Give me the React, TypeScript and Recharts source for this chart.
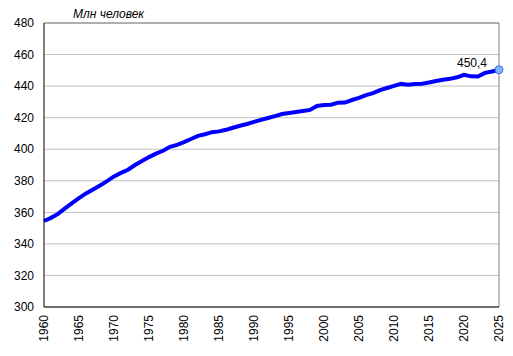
import { LineChart, Line, XAxis, YAxis, CartesianGrid, ReferenceLine } from 'recharts'

const years = [
  1960, 1961, 1962, 1963, 1964, 1965, 1966, 1967, 1968, 1969,
  1970, 1971, 1972, 1973, 1974, 1975, 1976, 1977, 1978, 1979,
  1980, 1981, 1982, 1983, 1984, 1985, 1986, 1987, 1988, 1989,
  1990, 1991, 1992, 1993, 1994, 1995, 1996, 1997, 1998, 1999,
  2000, 2001, 2002, 2003, 2004, 2005, 2006, 2007, 2008, 2009,
  2010, 2011, 2012, 2013, 2014, 2015, 2016, 2017, 2018, 2019,
  2020, 2021, 2022, 2023, 2024, 2025,
]

// млн человек
const population = [
  354.5, 356.5, 359.0, 362.5, 365.8, 369.0, 372.0, 374.5, 377.0, 379.8,
  382.8, 385.0, 387.0, 390.0, 392.5, 395.0, 397.2, 399.0, 401.5, 402.8,
  404.5, 406.5, 408.5, 409.5, 410.8, 411.3, 412.3, 413.6, 414.9, 416.0,
  417.3, 418.6, 419.8, 421.0, 422.3, 423.0, 423.6, 424.2, 424.9, 427.4,
  428.0, 428.2, 429.5, 429.6, 431.2, 432.6, 434.3, 435.6, 437.5, 438.8,
  440.1, 441.4, 440.8, 441.4, 441.5, 442.3, 443.2, 444.0, 444.6, 445.6,
  447.2, 446.2, 446.1, 448.4, 449.3, 450.4,
]

const yTicks = [300, 320, 340, 360, 380, 400, 420, 440, 460, 480]
const xTicks = [1960, 1965, 1970, 1975, 1980, 1985, 1990, 1995, 2000, 2005, 2010, 2015, 2020, 2025]

const data = years.map((year, i) => ({ year, pop: population[i] }))
const last = data.length - 1
const font = "'Liberation Sans', Arial, sans-serif"

function XTick({ x, y, payload }: any) {
  return (
    <text x={x} y={y} transform={`rotate(-90 ${x} ${y})`} textAnchor="end" dy="0.35em"
      fontSize={12} fontFamily={font} fill="#000">
      {payload.value}
    </text>
  )
}

function LastDot(props: any) {
  if (props.index !== last) return <g key={props.index} />
  return <circle key={props.index} cx={props.cx} cy={props.cy} r={4} fill="#80b4ff" stroke="#3d6ef5" strokeWidth={1} />
}

function LastLabel(props: any) {
  if (props.index !== last) return <g key={props.index} />
  return (
    <text key={props.index} x={props.x - 12} y={props.y - 3} textAnchor="end" fontSize={12} fontFamily={font} fill="#000">
      {String(props.value).replace('.', ',')}
    </text>
  )
}

export default function App() {
  return (
    <div style={{ position: 'absolute', left: 0, top: 0, width: 513, height: 356, background: '#fff' }}>
      <LineChart width={513} height={356} data={data} margin={{ top: 23, right: 14, left: 0, bottom: 0 }}>
        <CartesianGrid vertical={false} stroke="#c0c0c0" />
        <ReferenceLine y={480} stroke="#808080" />
        <ReferenceLine x={2025} stroke="#808080" />
        <XAxis dataKey="year" type="number" domain={[1960, 2025]} ticks={xTicks} interval={0}
          height={49} tickSize={0} tickMargin={8} tickLine={false}
          axisLine={{ stroke: '#000' }} tick={<XTick />} />
        <YAxis domain={[300, 480]} ticks={yTicks} width={44} tickSize={0} tickMargin={10} tickLine={false}
          axisLine={{ stroke: '#000' }} tick={{ fontSize: 12, fontFamily: font, fill: '#000' }} />
        <Line type="linear" dataKey="pop" stroke="#0000ff" strokeWidth={4} isAnimationActive={false}
          dot={LastDot} activeDot={false} label={LastLabel} />
      </LineChart>
      <svg width={513} height={30} style={{ position: 'absolute', left: 0, top: 0, pointerEvents: 'none' }}>
        <text x={73} y={18} fontSize={12} fontStyle="italic" fontFamily={font} fill="#000">Млн человек</text>
      </svg>
    </div>
  )
}
